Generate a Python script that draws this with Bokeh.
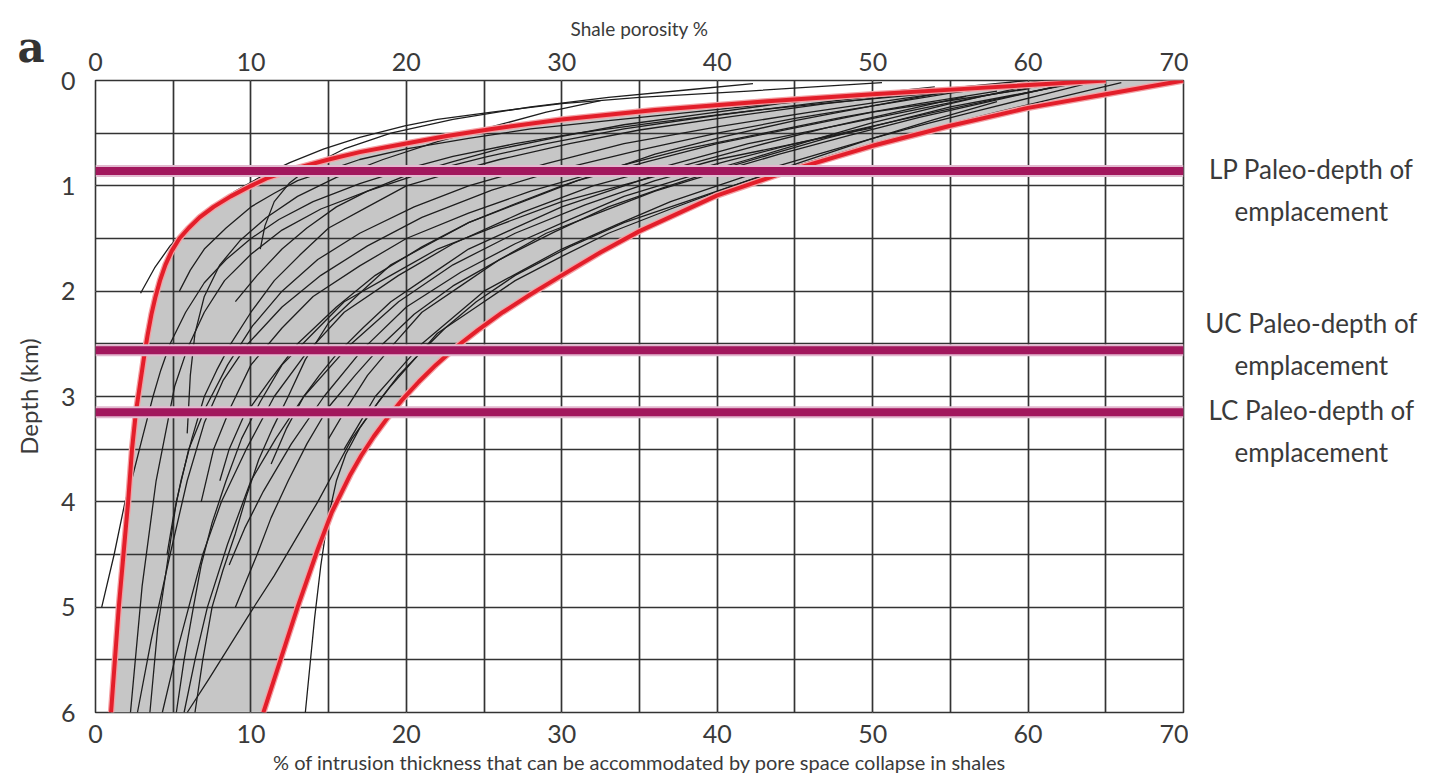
from bokeh.plotting import figure
from bokeh.models import Range1d, LinearAxis, FixedTicker, Span, Grid
from bokeh.core.properties import value
from bokeh.layouts import row
from bokeh.embed import file_html
from bokeh.resources import INLINE

# ---------------- data ----------------
x_ticks = [0, 10, 20, 30, 40, 50, 60, 70]
y_ticks = [0, 1, 2, 3, 4, 5, 6]
x_grid = [0, 5, 10, 15, 20, 25, 30, 35, 40, 45, 50, 55, 60, 65, 70]
y_grid = [0, 0.5, 1, 1.5, 2, 2.5, 3, 3.5, 4, 4.5, 5, 5.5, 6]

# envelope curves (porosity %, depth km)
left_env_por = [65, 57, 50, 43, 36, 30, 25.5, 22.5, 19.9, 17, 15, 13, 11, 10, 8.7, 7.6, 6.7, 6.0,
                5.4, 4.9, 4.5, 4.15, 3.85, 3.6, 3.35, 3.15, 2.85, 2.6, 2.35, 2.1, 1.8, 1.5, 1.25, 1.0]
left_env_depth = [0, 0.07, 0.13, 0.2, 0.28, 0.37, 0.46, 0.53, 0.6, 0.68, 0.75, 0.83, 0.93, 1.0, 1.1,
                  1.2, 1.3, 1.4, 1.5, 1.62, 1.75, 1.9, 2.06, 2.22, 2.42, 2.6, 2.9, 3.15, 3.5, 4.0,
                  4.5, 5.0, 5.5, 6.0]
right_env_por = [70, 65, 60, 55, 50, 45, 40, 35, 32.5, 30, 28, 26.2, 24.6, 23.2, 21.9, 20.8, 19.8,
                 18.8, 17.9, 17.1, 16.4, 15.8, 15.2, 14.3, 13.0, 11.9, 10.8]
right_env_depth = [0, 0.13, 0.26, 0.43, 0.62, 0.84, 1.09, 1.43, 1.63, 1.85, 2.03, 2.2, 2.37, 2.53,
                   2.7, 2.86, 3.02, 3.2, 3.38, 3.56, 3.74, 3.92, 4.1, 4.45, 5.0, 5.5, 6.0]

# individual porosity-depth curves
c01_por = [50.6, 42, 35, 30, 25.5, 22, 19.9, 17, 14.7, 12.5, 10.8, 9, 7.5, 6, 4.8, 3.8, 2.9]
c01_dep = [0.02, 0.1, 0.16, 0.22, 0.3, 0.37, 0.43, 0.54, 0.65, 0.78, 0.9, 1.05, 1.2, 1.38, 1.57, 1.78, 2.02]
c02_por = [32.5, 29, 26, 22, 18.5, 15.5, 13, 11, 9.3, 8, 7, 6.4, 6.1, 5.9]
c02_dep = [0.19, 0.3, 0.42, 0.58, 0.75, 0.92, 1.1, 1.3, 1.52, 1.75, 2.05, 2.4, 2.8, 3.35]
c03_por = [42.3, 38, 33, 28, 23, 19, 16, 14, 12.5, 11.5, 10.9, 10.6]
c03_dep = [0.03, 0.09, 0.16, 0.25, 0.37, 0.5, 0.65, 0.8, 0.97, 1.15, 1.38, 1.6]
c04_por = [60, 54, 48, 42, 36, 31, 27, 23, 20, 17, 14, 11.8, 10, 8.4, 7, 5.8, 4.8, 4.2, 3.7, 3.0, 2.4, 1.9, 1.2, 0.4]
c04_dep = [0.04, 0.12, 0.2, 0.29, 0.4, 0.5, 0.6, 0.72, 0.84, 0.98, 1.15, 1.32, 1.5, 1.7, 1.92, 2.2, 2.5,
           2.75, 3.0, 3.4, 3.75, 4.0, 4.5, 5.0]
c05_por = [60, 53, 46, 40, 34, 29, 25, 21, 17.5, 14.5, 12, 10, 8.3, 7, 5.9, 5.1, 3.9, 3.0, 2.25]
c05_dep = [0, 0.1, 0.22, 0.33, 0.46, 0.6, 0.73, 0.88, 1.05, 1.22, 1.42, 1.65, 1.9, 2.2, 2.55, 2.9, 3.8, 4.8, 6.0]
c06_por = [61, 55, 50, 45, 40, 35, 30, 25.5, 21, 17.5, 14.5, 12, 9.8, 8.2, 7, 5.9, 4.8, 3.6, 2.7]
c06_dep = [0, 0.12, 0.24, 0.36, 0.5, 0.66, 0.84, 1.04, 1.3, 1.57, 1.85, 2.15, 2.5, 2.85, 3.25, 3.8, 4.5, 5.3, 6.0]
c07_por = [62, 57, 52, 47, 42, 37, 32, 27.5, 23, 19.5, 16, 13.5, 11.5, 9.7, 8.1, 6.9, 6.0, 5.1, 4.3]
c07_dep = [0.02, 0.15, 0.3, 0.45, 0.6, 0.8, 1.0, 1.25, 1.55, 1.85, 2.2, 2.6, 3.0, 3.5, 4.0, 4.5, 5.0, 5.5, 6.0]
c08_por = [63, 58.5, 54, 49.5, 45, 40.5, 36, 31.5, 27, 23, 19.5, 16.3, 13.4, 11.6, 10, 8.5, 7.2, 6.4, 5.7]
c08_dep = [0.02, 0.16, 0.3, 0.45, 0.6, 0.77, 0.95, 1.18, 1.45, 1.75, 2.1, 2.52, 3.0, 3.4, 3.8, 4.4, 5.0, 5.5, 6.0]
c09_por = [60, 55, 50, 46, 42, 38, 34, 30.5, 27, 23.5, 20, 17.2, 14.7, 12.6, 10.8, 9.6, 8.6]
c09_dep = [0.05, 0.22, 0.4, 0.57, 0.75, 0.92, 1.1, 1.32, 1.55, 1.82, 2.15, 2.55, 3.0, 3.45, 3.9, 4.25, 4.6]
c10_por = [58, 52, 46, 40, 34, 29, 24, 20.5, 17, 14.3, 12, 10.1, 8.5, 7.1, 6, 5.2, 4.7, 4.0, 3.5]
c10_dep = [0.05, 0.17, 0.3, 0.44, 0.6, 0.79, 1.0, 1.2, 1.45, 1.7, 2.0, 2.33, 2.7, 3.1, 3.5, 4.0, 4.5, 5.2, 6.0]
c11_por = [66, 62, 58, 54, 50, 46, 42, 38, 34, 30.5, 27, 24.5, 22.5, 21, 19.5, 18.2, 17, 16.1, 15.5, 14.9, 14.5, 14.1, 13.5]
c11_dep = [0.02, 0.16, 0.3, 0.45, 0.6, 0.77, 0.95, 1.15, 1.35, 1.58, 1.85, 2.1, 2.35, 2.57, 2.8, 3.05, 3.3, 3.55, 3.8, 4.2, 4.6, 5.1, 6.0]
c12_por = [56, 51.5, 47, 42.5, 38, 34, 30, 27, 24, 21.5, 19, 17.2, 15.5, 14.4, 13.4, 12.3, 11.3]
c12_dep = [0.15, 0.3, 0.45, 0.62, 0.8, 1.0, 1.2, 1.4, 1.6, 1.85, 2.1, 2.35, 2.6, 2.8, 3.0, 3.3, 3.64]
c13_por = [58, 54, 50, 45.5, 41, 37, 33, 30, 27, 24.5, 22, 20.5, 19, 17.7, 16.5, 15.4, 14.3, 12.9, 11.5, 10.1, 8.7, 7.3, 5.9]
c13_dep = [0.2, 0.37, 0.55, 0.77, 1.0, 1.22, 1.45, 1.67, 1.9, 2.15, 2.4, 2.65, 2.9, 3.15, 3.4, 3.7, 4.0, 4.35, 4.7, 5.02, 5.35, 5.68, 6.0]
c14_por = [58, 53, 48, 43, 38, 33, 28, 24, 20, 17, 14, 12, 10, 8.7, 7.6, 6.8]
c14_dep = [0.1, 0.22, 0.35, 0.5, 0.65, 0.84, 1.05, 1.26, 1.5, 1.76, 2.05, 2.35, 2.7, 3.1, 3.5, 4.0]
c15_por = [55, 50, 45, 40.5, 36, 33, 30, 27, 24, 21, 18, 15.5, 13, 11.2, 9.5, 8.6, 8]
c15_dep = [0.1, 0.24, 0.38, 0.53, 0.7, 0.85, 1.0, 1.17, 1.35, 1.58, 1.85, 2.15, 2.5, 2.85, 3.2, 3.5, 3.8]
c16_por = [63, 59, 55, 51, 47, 43.5, 40, 36.5, 33, 29.5, 26, 23.5, 21, 19.2, 17.5, 16.2, 15]
c16_dep = [0.03, 0.14, 0.25, 0.4, 0.55, 0.7, 0.85, 1.02, 1.2, 1.44, 1.7, 1.95, 2.2, 2.5, 2.8, 3.1, 3.4]
c17_por = [64, 60.5, 57, 53.5, 50, 46.5, 43, 40, 37, 33.5, 30, 27.5, 25, 23, 21, 19.5, 18, 17, 16]
c17_dep = [0.02, 0.15, 0.28, 0.41, 0.55, 0.7, 0.85, 1.0, 1.15, 1.37, 1.6, 1.8, 2.0, 2.25, 2.5, 2.75, 3.0, 3.25, 3.5]
c18_por = [59, 53, 47, 41, 35, 30.5, 26, 23, 20, 17.5, 15, 13.2, 11.5, 10, 8.7, 7.8, 7, 6.2, 5.5, 5.0, 4.6]
c18_dep = [0.03, 0.12, 0.22, 0.34, 0.47, 0.6, 0.75, 0.87, 1.0, 1.2, 1.4, 1.65, 1.9, 2.2, 2.5, 2.75, 3.0, 3.4, 3.8, 4.15, 4.5]
c19_por = [54, 49, 44, 39, 34, 30, 26, 23, 20, 17.5, 15.5, 13.6, 12, 10.4, 9]
c19_dep = [0.06, 0.14, 0.22, 0.32, 0.42, 0.53, 0.65, 0.77, 0.9, 1.05, 1.2, 1.4, 1.6, 1.85, 2.1]
c20_por = [60, 55, 50, 45, 40, 35.5, 31, 27.5, 24, 21.5, 19, 17, 15, 13.5, 12.4, 11.4, 10.5, 9.7, 9, 8.2, 7.5, 6.9, 6.4]
c20_dep = [0.08, 0.19, 0.3, 0.45, 0.6, 0.77, 0.95, 1.15, 1.35, 1.55, 1.75, 2.02, 2.3, 2.65, 3.0, 3.3, 3.6, 3.95, 4.3, 4.65, 5.0, 5.5, 6.0]
c21_por = [56, 50, 45, 39, 33, 28, 24, 20, 17, 15, 13, 11.5, 10, 8.4, 7, 6.1, 5.4]
c21_dep = [0.07, 0.13, 0.2, 0.29, 0.38, 0.46, 0.55, 0.65, 0.75, 0.85, 0.95, 1.07, 1.2, 1.4, 1.6, 1.8, 2.0]
c22_por = [62, 57.5, 53, 48.5, 44, 40, 36, 32.5, 29, 26, 23, 20.5, 18.5, 16.7, 15, 13.6, 12.4, 11.3, 10.4, 9.7, 9.0]
c22_dep = [0.05, 0.2, 0.35, 0.52, 0.7, 0.87, 1.05, 1.25, 1.45, 1.7, 1.95, 2.22, 2.5, 2.8, 3.1, 3.45, 3.8, 4.15, 4.5, 4.75, 5.0]
c23_por = [50, 45, 40, 35, 30, 26, 22, 19, 16, 14, 12, 10.6, 9.4, 8.4, 7.5, 6.8, 6.3, 5.7, 5.2]
c23_dep = [0.45, 0.6, 0.75, 0.95, 1.15, 1.37, 1.6, 1.85, 2.1, 2.4, 2.7, 3.05, 3.4, 3.8, 4.2, 4.6, 5.0, 5.5, 6.0]

# paleo-depths of emplacement (km)
paleo_names = ["LP", "UC", "LC"]
paleo_depths = [0.86, 2.56, 3.15]

# ---------------- styling ----------------
FONT = "Lato"
TXT = "#3a3a3a"
W = 1455
H = 780
LEFT_W = 50          # narrow strip holding the panel letter and the y-axis title
RIGHT_W = 267        # strip holding the paleo-depth labels
TOP, BOTTOM = 80, 68

def bare(fig):
    fig.outline_line_color = None
    fig.background_fill_color = "white"
    fig.border_fill_color = "white"
    fig.xgrid.visible = False
    fig.ygrid.visible = False

# ---------------- main figure ----------------
p = figure(width=W - LEFT_W - RIGHT_W, height=H, x_range=Range1d(0, 70), y_range=Range1d(6, 0),
           output_backend="svg", toolbar_location=None,
           x_axis_location=None, y_axis_location=None,
           min_border_left=95 - LEFT_W, min_border_right=5, min_border_top=TOP, min_border_bottom=BOTTOM)
p.background_fill_color = "white"
p.border_fill_color = "white"
p.outline_line_color = "#333333"
p.outline_line_width = 1.6

def style_axis(ax, size="25px"):
    ax.axis_line_color = None
    ax.major_tick_line_color = None
    ax.minor_tick_line_color = None
    ax.major_label_text_font = FONT
    ax.major_label_text_font_size = size
    ax.major_label_text_color = TXT
    ax.axis_label_text_font = FONT
    ax.axis_label_text_font_style = "normal"
    ax.axis_label_text_color = TXT

yax = LinearAxis(ticker=FixedTicker(ticks=y_ticks))
style_axis(yax)
yax.major_label_standoff = 14
p.add_layout(yax, "left")

xb = LinearAxis(ticker=FixedTicker(ticks=x_ticks),
                axis_label="% of intrusion thickness that can be accommodated by pore space collapse in shales")
style_axis(xb)
xb.axis_label_text_font_size = "20px"
xb.major_label_standoff = 6
xb.axis_label_standoff = 4
p.add_layout(xb, "below")

xt = LinearAxis(ticker=FixedTicker(ticks=x_ticks), axis_label="Shale porosity %")
style_axis(xt)
xt.axis_label_text_font_size = "19px"
xt.major_label_standoff = 4
xt.axis_label_standoff = 10
p.add_layout(xt, "above")

for dim, ticks in ((0, x_grid), (1, y_grid)):
    g = Grid(dimension=dim, ticker=FixedTicker(ticks=ticks),
             grid_line_color="#333333", grid_line_width=1.7)
    p.add_layout(g)

# grey envelope fill
p.patch(left_env_por + right_env_por[::-1], left_env_depth + right_env_depth[::-1],
        fill_color="#c6c6c6", line_color=None, level="image")

curves_por = [c01_por, c02_por, c03_por, c04_por, c05_por, c06_por, c07_por, c08_por,
              c09_por, c10_por, c11_por, c12_por, c13_por, c14_por, c15_por, c16_por,
              c17_por, c18_por, c19_por, c20_por, c21_por, c22_por, c23_por]
curves_dep = [c01_dep, c02_dep, c03_dep, c04_dep, c05_dep, c06_dep, c07_dep, c08_dep,
              c09_dep, c10_dep, c11_dep, c12_dep, c13_dep, c14_dep, c15_dep, c16_dep,
              c17_dep, c18_dep, c19_dep, c20_dep, c21_dep, c22_dep, c23_dep]
p.multi_line(curves_por, curves_dep, line_color="#1e1e1e", line_width=1.3, line_join="round")

for xs, ys in ((left_env_por, left_env_depth), (right_env_por, right_env_depth)):
    p.line(xs, ys, line_color="#f4a0a4", line_width=6.5, line_join="round")
    p.line(xs, ys, line_color="#e31e2a", line_width=4, line_join="round")

for d in paleo_depths:
    p.add_layout(Span(location=d, dimension="width", line_color="#e2b9cf", line_width=12))
    p.add_layout(Span(location=d, dimension="width", line_color="#a2175d", line_width=8))

# ---------------- left strip: panel letter (title) + y-axis title ----------------
p0 = figure(width=LEFT_W, height=H, x_range=Range1d(0, LEFT_W), y_range=p.y_range,
            title="a", output_backend="svg", toolbar_location=None,
            x_axis_location=None, y_axis_location=None,
            min_border_left=0, min_border_right=0, min_border_top=TOP, min_border_bottom=BOTTOM)
bare(p0)
p0.title.text_font = "DejaVu Serif"
p0.title.text_font_style = "bold"
p0.title.text_font_size = "42px"
p0.title.text_color = "#333333"
p0.title.align = "left"
p0.title.offset = 17
p0.title.standoff = 18
p0.text(x=[28], y=[3.0], text=["Depth (km)"], angle=1.5708, text_align="center",
        text_baseline="middle", text_font=value(FONT), text_font_size=value("24px"),
        text_color=TXT)

# ---------------- right strip: paleo-depth labels ----------------
p2 = figure(width=RIGHT_W, height=H, x_range=Range1d(0, 1), y_range=p.y_range,
            output_backend="svg", toolbar_location=None,
            x_axis_location=None, y_axis_location=None,
            min_border_left=0, min_border_right=0, min_border_top=TOP, min_border_bottom=BOTTOM)
bare(p2)

label_offsets = [0.0, -0.24, 0.0]
lab_text, lab_y = [], []
for name, d, off in zip(paleo_names, paleo_depths, label_offsets):
    y1 = d + off - 0.02
    lab_text += [f"{name} Paleo-depth of", "emplacement"]
    lab_y += [y1, y1 + 0.40]
p2.text(x=[0.46] * len(lab_text), y=lab_y, text=lab_text, text_align="center",
        text_baseline="middle", text_font=value(FONT), text_font_size=value("26px"),
        text_color=TXT)

open("out.html", "w").write(file_html(row(p0, p, p2), INLINE))
